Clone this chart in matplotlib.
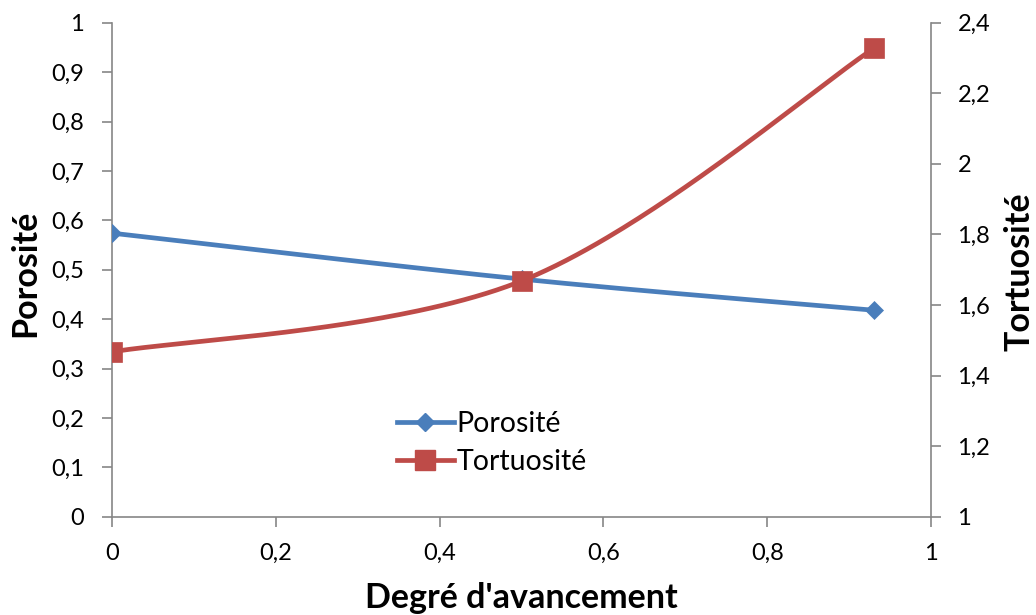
import numpy as np
import matplotlib
matplotlib.use("Agg")
import matplotlib.pyplot as plt
from matplotlib.lines import Line2D

# ---- data ----
x_vals = [0.0, 0.5, 0.93]
porosite = [0.574, 0.481, 0.418]
tortuosite = [1.467, 1.668, 2.327]

left_ticks = [0, 0.1, 0.2, 0.3, 0.4, 0.5, 0.6, 0.7, 0.8, 0.9, 1.0]
left_labels = ["0", "0,1", "0,2", "0,3", "0,4", "0,5", "0,6", "0,7", "0,8", "0,9", "1"]
right_ticks = [1.0, 1.2, 1.4, 1.6, 1.8, 2.0, 2.2, 2.4]
right_labels = ["1", "1,2", "1,4", "1,6", "1,8", "2", "2,2", "2,4"]
x_ticks = [0, 0.2, 0.4, 0.6, 0.8, 1.0]
x_labels = ["0", "0,2", "0,4", "0,6", "0,8", "1"]

BLUE = "#4A7EBB"
RED = "#BE4B48"
GRAY = "#868686"
FONT = "Lato"

plt.rcParams['font.family'] = [FONT, 'DejaVu Sans']


def smooth(xs, ys, xlim, ylim, n=80):
    """Excel-like smoothed line (Catmull-Rom Bezier) computed in normalised axes space."""
    px = (np.asarray(xs) - xlim[0]) / (xlim[1] - xlim[0]) * 819.0
    py = (np.asarray(ys) - ylim[0]) / (ylim[1] - ylim[0]) * 494.0
    P = np.column_stack([px, py])
    Pext = np.vstack([P[0], P, P[-1]])
    out = []
    t = np.linspace(0, 1, n)[:, None]
    for i in range(len(P) - 1):
        p0, p1, p2, p3 = Pext[i], Pext[i + 1], Pext[i + 2], Pext[i + 3]
        c1 = p1 + (p2 - p0) / 6.0
        c2 = p2 - (p3 - p1) / 6.0
        seg = ((1 - t) ** 3) * p1 + 3 * ((1 - t) ** 2) * t * c1 + 3 * (1 - t) * t ** 2 * c2 + t ** 3 * p2
        out.append(seg if i == 0 else seg[1:])
    out = np.vstack(out)
    sx = out[:, 0] / 819.0 * (xlim[1] - xlim[0]) + xlim[0]
    sy = out[:, 1] / 494.0 * (ylim[1] - ylim[0]) + ylim[0]
    return sx, sy


fig = plt.figure(figsize=(10.36, 6.15), dpi=100)
ax = fig.add_axes([112 / 1036, (615 - 516.7) / 615, 819 / 1036, 494 / 615])
ax2 = ax.twinx()

xlim = (0, 1)
ylim1 = (0, 1)
ylim2 = (1, 2.4)
LW = 3.4

sx, sy = smooth(x_vals, porosite, xlim, ylim1)
ax.plot(sx, sy, color=BLUE, lw=LW, solid_capstyle='round', zorder=3)
ax.plot(x_vals, porosite, linestyle='none', marker='D', ms=9.4, mfc=BLUE, mec=BLUE, mew=0.5, zorder=4)

sx2, sy2 = smooth(x_vals, tortuosite, xlim, ylim2)
ax2.plot(sx2, sy2, color=RED, lw=LW, solid_capstyle='round', zorder=3)
ax2.plot(x_vals, tortuosite, linestyle='none', marker='s', ms=14, mfc=RED, mec=RED, mew=0.5, zorder=4)

for a in (ax, ax2):
    a.set_xlim(*xlim)
    a.patch.set_visible(False)
    for s in a.spines.values():
        s.set_visible(False)
    a.tick_params(colors=GRAY, labelcolor='black', width=1.2, length=7,
                  labelsize=17)

ax.set_ylim(*ylim1)
ax2.set_ylim(*ylim2)

for a, side in ((ax, 'left'), (ax, 'bottom'), (ax2, 'right')):
    a.spines[side].set_visible(True)
    a.spines[side].set_color(GRAY)
    a.spines[side].set_linewidth(1.2)

ax.set_yticks(left_ticks)
ax.set_yticklabels(left_labels)
ax.set_xticks(x_ticks)
ax.set_xticklabels(x_labels)
ax2.set_yticks(right_ticks)
ax2.set_yticklabels(right_labels)
ax.tick_params(axis='y', pad=13)
ax.tick_params(axis='x', pad=12)
ax2.tick_params(axis='y', pad=12)

# axis titles
fig.text(521.5 / 1036, (615 - 607.5) / 615, "Degré d'avancement", ha='center', va='baseline',
         fontsize=24.5, fontweight='bold')
fig.text(35 / 1036, 1 - 273 / 615, "Porosité", rotation=90, rotation_mode='anchor',
         ha='center', va='baseline', fontsize=24.5, fontweight='bold')
fig.text(1030 / 1036, 1 - 272 / 615, "Tortuosité", rotation=90, rotation_mode='anchor',
         ha='center', va='baseline', fontsize=24.5, fontweight='bold')

# legend
handles = [Line2D([], [], color=BLUE, lw=LW, marker='D', ms=9.4, mfc=BLUE, mec=BLUE),
           Line2D([], [], color=RED, lw=LW, marker='s', ms=14, mfc=RED, mec=RED)]
leg = ax.legend(handles, ["Porosité", "Tortuosité"], loc='center left',
                bbox_to_anchor=((395 - 112) / 819 + 0.002, (516.7 - 443) / 494),
                frameon=False, fontsize=20.5, handlelength=2.0, handletextpad=0.1,
                labelspacing=0.45, borderaxespad=0, borderpad=0)

fig.savefig("out.png", dpi=100)
